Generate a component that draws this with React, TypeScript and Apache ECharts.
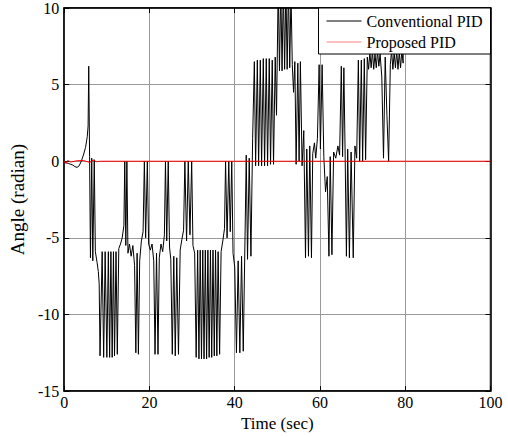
import React, { useEffect, useRef } from "react";
import * as echarts from "echarts";

const xTicks = [0, 20, 40, 60, 80, 100];
const yTicks = [-15, -10, -5, 0, 5, 10];

// Conventional PID response [time (sec), angle (radian)]
const conventionalPID: [number, number][] = [
  [0, 0], [0.5, -0.1], [1, -0.15], [1.5, -0.2], [2, -0.25], [2.5, -0.35], [3, -0.4], [3.5, -0.3],
  [4, 0], [4.5, 0.4], [5, 0.9], [5.4, 1.6], [5.6, 2.3], [5.75, 6.2], [5.95, 0.3], [6.15, -6.3],
  [6.45, 0.2], [6.7, -6.5], [7.05, 0.1], [7.3, -5.9], [7.7, -6.6], [8.0, -7.2], [8.2, -8.0],
  [8.4, -12.7], [8.9, -5.9], [9.25, -12.8], [9.6, -5.9], [10.0, -12.8], [10.35, -5.9], [10.65, -12.8],
  [10.95, -5.9], [11.25, -12.8], [11.55, -5.9], [11.8, -12.7], [12.15, -5.9], [12.45, -12.6], [12.8, -5.7],
  [13.2, -5.4], [13.6, -5.0], [14.0, -4.2], [14.2, 0], [14.45, -5.5], [14.7, 0], [14.95, -6.0],
  [15.3, -5.4], [15.7, -6.2], [16.1, -5.5], [16.5, -6.8], [16.8, -12.5], [17.1, -6.0], [17.4, -12.6],
  [17.7, -6.5], [18.1, -5.2], [18.5, -4.6], [18.8, 0], [19.1, -5.0], [19.5, 0], [19.8, -5.4],
  [20.2, -5.8], [20.6, -5.4], [21.0, -6.5], [21.3, -12.6], [21.65, -6.0], [22.0, -12.6], [22.3, -6.3],
  [22.7, -5.4], [23.1, -5.9], [23.5, -4.8], [23.75, 0], [24.05, -5.2], [24.4, 0], [24.7, -5.6],
  [25.0, -6.4], [25.35, -12.6], [25.7, -6.2], [26.05, -12.7], [26.4, -6.3], [26.8, -12.6], [27.2, -5.8],
  [27.6, -5.1], [28.0, -4.5], [28.3, 0], [28.7, -5.2], [29.1, 0], [29.5, -4.8], [29.9, 0], [30.2, -5.5],
  [30.6, -6.0], [30.95, -12.8], [31.3, -5.8], [31.6, -12.9], [31.9, -5.8], [32.2, -12.9], [32.5, -5.8],
  [32.8, -12.9], [33.1, -5.8], [33.4, -12.9], [33.7, -5.8], [34.0, -12.8], [34.3, -5.8], [34.6, -12.8],
  [34.9, -5.8], [35.2, -12.7], [35.5, -5.8], [35.8, -12.7], [36.1, -5.9], [36.45, -12.6], [36.8, -5.9],
  [37.2, -5.2], [37.6, -4.4], [37.85, 0], [38.2, -5.0], [38.6, 0], [38.95, -4.6], [39.3, 0], [39.6, -6.0],
  [40.0, -6.9], [40.4, -12.5], [40.8, -6.5], [41.2, -12.5], [41.6, -6.2], [42.0, -12.4], [42.4, -5.2],
  [42.7, 0.4], [43.0, -6.4], [43.4, 0.2], [43.8, -6.2], [44.2, 1.5],
  [44.6, 6.5], [44.9, -0.3], [45.3, 6.6], [45.6, -0.3], [46.0, 6.6], [46.3, -0.3], [46.7, 6.7], [47.0, -0.3],
  [47.4, 6.7], [47.7, -0.3], [48.1, 6.7], [48.4, -0.2], [48.8, 6.6], [49.1, -0.2], [49.5, 6.8], [49.8, 3.0],
  [50.2, 11.5], [50.5, 5.9], [50.8, 11.5], [51.1, 5.9], [51.4, 11.5], [51.7, 6.0], [52.0, 11.5], [52.3, 6.0],
  [52.6, 11.5], [52.9, 6.1], [53.2, 11], [53.5, 6.3], [53.8, 4.5],
  [54.1, 6.5], [54.4, -0.2], [54.8, 6.4], [55.1, 0], [55.4, 6.5], [55.8, -0.3], [56.2, 2.0], [56.6, -6.3],
  [56.9, 0.8], [57.3, -6.2], [57.6, 1.0], [58.0, -6.3], [58.3, 0.5], [58.7, 1.2], [59.0, 0.2], [59.4, 1.5],
  [59.8, 6.3], [60.1, 0.8], [60.5, 6.3], [60.9, 0.3], [61.3, -2.0], [61.7, -1.0], [62.1, -6.2], [62.4, 0.3],
  [62.8, -6.1], [63.2, 0.6], [63.7, 0.2], [64.2, 1.0], [64.6, 0.4], [65.0, 6.2], [65.3, 0.3], [65.6, 6.1],
  [65.9, 0.4], [66.2, -6.2], [66.5, 0.8], [66.9, -6.3], [67.3, 0.6], [67.8, -6.3], [68.2, 1.0], [68.6, 0.2],
  [69.0, 6.6], [69.3, 0.0], [69.7, 6.6], [70.0, 0.0], [70.4, 6.7], [70.7, 0.1], [71.1, 6.8],
  [71.4, 6.0], [71.7, 7.1], [72.0, 6.1], [72.3, 7.2], [72.6, 6.0], [72.9, 7.0], [73.2, 6.1], [73.5, 7.2],
  [73.8, 6.2], [74.1, 7.0], [74.5, 5.5], [74.9, 0.2], [75.3, 6.8], [75.7, 3.0], [76.1, 0.0], [76.5, 6.3],
  [76.8, 7.2], [77.1, 6.0], [77.4, 7.1], [77.7, 6.1], [78.0, 7.2], [78.3, 6.0], [78.6, 7.1], [78.9, 6.1],
  [79.2, 7.2], [79.5, 6.4], [79.6, 12],
];

// Proposed PID response [time (sec), angle (radian)]
const proposedPID: [number, number][] = [
  [0, 0], [0.4, -0.15], [0.8, 0.05], [1.5, -0.05], [3, 0.03], [4.5, 0.05], [6, -0.08], [6.8, 0.08],
  [7.5, -0.03], [8.5, 0], [100, 0],
];

const serif = "Liberation Serif";

export default function App() {
  const ref = useRef<HTMLDivElement>(null);
  useEffect(() => {
    if (!ref.current) return;
    const chart = echarts.init(ref.current, undefined, { renderer: "svg" });
    const axisCommon = {
      type: "value" as const,
      axisLine: { show: true, onZero: false, lineStyle: { color: "#000", width: 1.5 } },
      axisTick: { show: true, inside: true, length: 5, lineStyle: { color: "#000" } },
    };
    chart.setOption({
      animation: false,
      backgroundColor: "#fff",
      textStyle: { fontFamily: serif, fontWeight: "normal" },
      grid: { left: 62, right: 17.5, top: 8, bottom: 42, show: true, borderColor: "#000", borderWidth: 1.5, containLabel: false },
      legend: {
        orient: "vertical",
        right: 17.5,
        top: 8,
        backgroundColor: "#fff",
        borderColor: "#000",
        borderWidth: 1,
        borderRadius: 0,
        padding: [5, 8, 4, 8],
        itemGap: 5,
        itemWidth: 35,
        itemHeight: 1,
        icon: "rect",
        textStyle: { fontFamily: serif, fontSize: 16, color: "#000", fontWeight: "normal" },
        data: [
          { name: "Conventional PID", itemStyle: { color: "#000" } },
          { name: "Proposed PID", itemStyle: { color: "#ff8080" } },
        ],
      },
      xAxis: [
        {
          ...axisCommon,
          min: xTicks[0],
          max: xTicks[xTicks.length - 1],
          interval: 20,
          name: "Time (sec)",
          nameLocation: "middle",
          nameGap: 14,
          nameTextStyle: { fontFamily: serif, fontSize: 17, color: "#000", verticalAlign: "top", fontWeight: "normal" },
          axisLabel: { fontFamily: serif, fontSize: 16, color: "#000", margin: 3, fontWeight: "normal" },
          splitLine: { show: true, lineStyle: { color: "#999", width: 1 } },
        },
        {
          ...axisCommon,
          position: "top",
          min: xTicks[0],
          max: xTicks[xTicks.length - 1],
          interval: 20,
          axisLabel: { show: false },
          splitLine: { show: false },
        },
      ],
      yAxis: [
        {
          ...axisCommon,
          min: yTicks[0],
          max: yTicks[yTicks.length - 1],
          interval: 5,
          name: "Angle (radian)",
          nameLocation: "middle",
          nameGap: 31,
          nameRotate: 90,
          nameTextStyle: { fontFamily: serif, fontSize: 19, color: "#000", fontWeight: "normal" },
          axisLabel: { fontFamily: serif, fontSize: 16, color: "#000", margin: 5, fontWeight: "normal" },
          splitLine: { show: true, lineStyle: { color: "#999", width: 1 } },
        },
        {
          ...axisCommon,
          position: "right",
          min: yTicks[0],
          max: yTicks[yTicks.length - 1],
          interval: 5,
          axisLabel: { show: false },
          splitLine: { show: false },
        },
      ],
      series: [
        {
          name: "Conventional PID",
          type: "line",
          data: conventionalPID,
          symbol: "none",
          clip: true,
          lineStyle: { color: "#000", width: 1 },
          itemStyle: { color: "#000" },
          z: 2,
        },
        {
          name: "Proposed PID",
          type: "line",
          data: proposedPID,
          symbol: "none",
          clip: true,
          lineStyle: { color: "#ff0000", width: 1 },
          itemStyle: { color: "#ff0000" },
          z: 3,
        },
      ],
    });
    return () => chart.dispose();
  }, []);
  return (
    <div
      ref={ref}
      style={{ position: "fixed", left: 0, top: 0, width: 508, height: 437, background: "#fff" }}
    />
  );
}
